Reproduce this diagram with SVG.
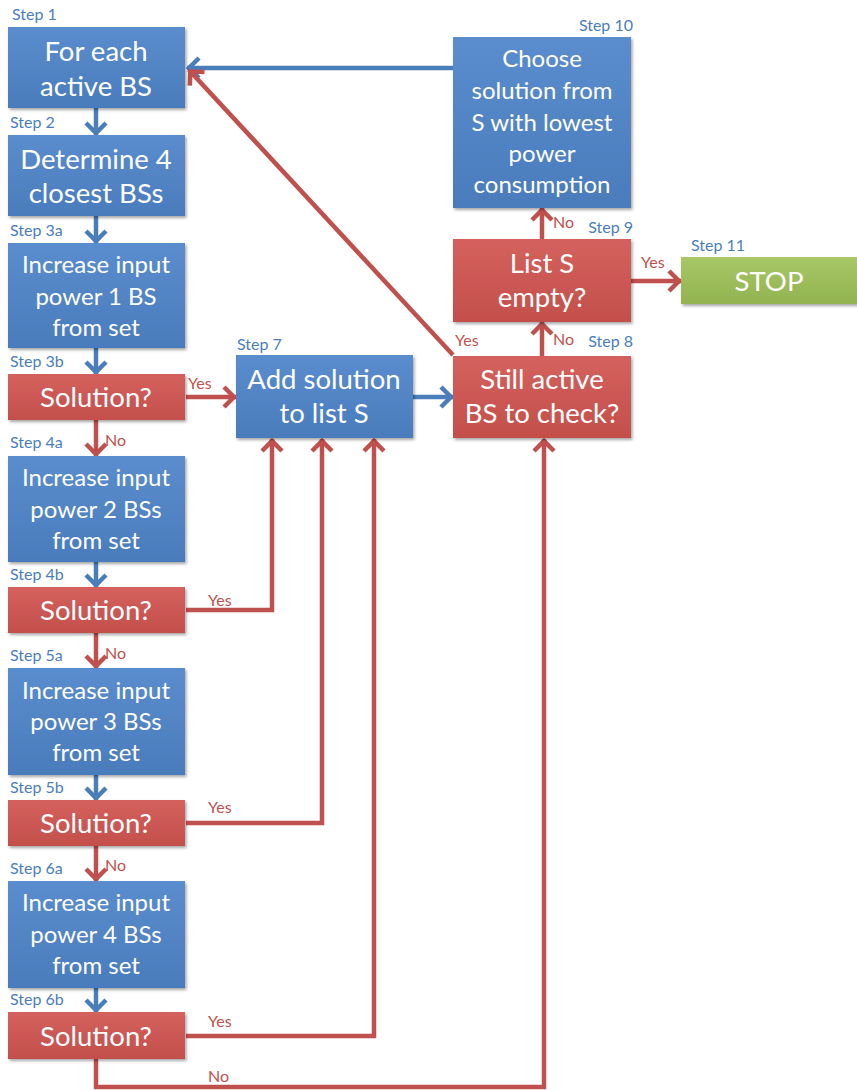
<svg xmlns="http://www.w3.org/2000/svg" width="857" height="1090" viewBox="0 0 857 1090">
<style>
.bt{font-family:Lato,"Open Sans","Liberation Sans",sans-serif;fill:#fff;text-anchor:middle}
.f27{font-size:27.5px}.f23{font-size:24px}.f22{font-size:24px}
.lbl{font-family:Lato,"Open Sans","Liberation Sans",sans-serif;font-size:16px;fill:#4a7ebb}
.rl{font-family:Lato,"Open Sans","Liberation Sans",sans-serif;font-size:16px;fill:#c0504d}
.bl{fill:none;stroke:#4a7ebb;stroke-width:4.5}
.rd{fill:none;stroke:#c0504d;stroke-width:4.5}
</style>
<defs>
<linearGradient id="gb" x1="0" y1="0" x2="0" y2="1"><stop offset="0" stop-color="#5a8dcd"/><stop offset="1" stop-color="#4a7cbc"/></linearGradient>
<linearGradient id="gr" x1="0" y1="0" x2="0" y2="1"><stop offset="0" stop-color="#d4615d"/><stop offset="1" stop-color="#c34f4b"/></linearGradient>
<linearGradient id="gg" x1="0" y1="0" x2="0" y2="1"><stop offset="0" stop-color="#a8c767"/><stop offset="1" stop-color="#92b350"/></linearGradient>
<filter id="sh" x="-10%" y="-10%" width="125%" height="130%"><feDropShadow dx="1.5" dy="2" stdDeviation="1.5" flood-color="#000" flood-opacity="0.35"/></filter>
<marker id="ab" viewBox="-15 -13 17 26" refX="0" refY="0" markerWidth="17" markerHeight="26" markerUnits="userSpaceOnUse" orient="auto"><path d="M-12,-10 L-2,0 L-12,10" fill="none" stroke="#4a7ebb" stroke-width="4.5"/></marker>
<marker id="ar" viewBox="-15 -13 17 26" refX="0" refY="0" markerWidth="17" markerHeight="26" markerUnits="userSpaceOnUse" orient="auto"><path d="M-12,-10 L-2,0 L-12,10" fill="none" stroke="#c0504d" stroke-width="4.5"/></marker>
</defs>
<rect width="857" height="1090" fill="#fff"/>

<g id="connectors">
<line class="bl" x1="96" y1="108" x2="96" y2="135" marker-end="url(#ab)"/>
<line class="bl" x1="96" y1="216" x2="96" y2="243" marker-end="url(#ab)"/>
<line class="bl" x1="96" y1="348" x2="96" y2="374" marker-end="url(#ab)"/>
<line class="rd" x1="96" y1="420" x2="96" y2="456" marker-end="url(#ar)"/>
<line class="bl" x1="96" y1="562" x2="96" y2="587" marker-end="url(#ab)"/>
<line class="rd" x1="96" y1="633" x2="96" y2="668" marker-end="url(#ar)"/>
<line class="bl" x1="96" y1="775" x2="96" y2="800" marker-end="url(#ab)"/>
<line class="rd" x1="96" y1="846" x2="96" y2="881" marker-end="url(#ar)"/>
<line class="bl" x1="96" y1="988" x2="96" y2="1012" marker-end="url(#ab)"/>
<line class="rd" x1="186" y1="397" x2="236" y2="397" marker-end="url(#ar)"/>
<polyline class="rd" points="186,610 272,610 272,439" marker-end="url(#ar)"/>
<polyline class="rd" points="186,823 322,823 322,439" marker-end="url(#ar)"/>
<polyline class="rd" points="186,1036 374,1036 374,439" marker-end="url(#ar)"/>
<polyline class="rd" points="96,1059 96,1087 544,1087 544,439" marker-end="url(#ar)"/>
<line class="bl" x1="413" y1="397" x2="453" y2="397" marker-end="url(#ab)"/>
<line class="rd" x1="542" y1="356" x2="542" y2="322" marker-end="url(#ar)"/>
<line class="rd" x1="542" y1="239" x2="542" y2="208" marker-end="url(#ar)"/>
<line class="rd" x1="631" y1="281" x2="681" y2="281" marker-end="url(#ar)"/>
<line class="bl" x1="453" y1="68" x2="187" y2="68" marker-end="url(#ab)"/>
<line class="rd" x1="453" y1="355" x2="189" y2="70" marker-end="url(#ar)"/>
<text class="rl" x="188" y="389">Yes</text>
<text class="rl" x="105" y="446">No</text>
<text class="rl" x="208" y="606">Yes</text>
<text class="rl" x="105" y="659">No</text>
<text class="rl" x="208" y="813">Yes</text>
<text class="rl" x="105" y="871">No</text>
<text class="rl" x="208" y="1027">Yes</text>
<text class="rl" x="208" y="1082">No</text>
<text class="rl" x="553" y="228">No</text>
<text class="rl" x="553" y="345">No</text>
<text class="rl" x="641" y="268">Yes</text>
<text class="rl" x="455" y="346">Yes</text>
</g>

<g id="step1">
<text class="lbl" x="12" y="20">Step 1</text>
<rect x="8" y="27" width="177" height="81" fill="url(#gb)" filter="url(#sh)"/>
<text class="bt f27" x="96" y="61">For each</text>
<text class="bt f27" x="96" y="96">active BS</text>
</g>
<g id="step2">
<text class="lbl" x="10" y="128">Step 2</text>
<rect x="8" y="135" width="177" height="81" fill="url(#gb)" filter="url(#sh)"/>
<text class="bt f27" x="96" y="169">Determine 4</text>
<text class="bt f27" x="96" y="203">closest BSs</text>
</g>
<g id="step3a">
<text class="lbl" x="10" y="236">Step 3a</text>
<rect x="8" y="243" width="177" height="105" fill="url(#gb)" filter="url(#sh)"/>
<text class="bt f23" x="96" y="273">Increase input</text>
<text class="bt f23" x="96" y="305">power 1 BS</text>
<text class="bt f23" x="96" y="336">from set</text>
</g>
<g id="step3b">
<text class="lbl" x="10" y="367">Step 3b</text>
<rect x="8" y="374" width="177" height="46" fill="url(#gr)" filter="url(#sh)"/>
<text class="bt f27" x="96" y="407">Solution?</text>
</g>
<g id="step4a">
<text class="lbl" x="10" y="448">Step 4a</text>
<rect x="8" y="456" width="177" height="106" fill="url(#gb)" filter="url(#sh)"/>
<text class="bt f23" x="96" y="486">Increase input</text>
<text class="bt f23" x="96" y="518">power 2 BSs</text>
<text class="bt f23" x="96" y="549">from set</text>
</g>
<g id="step4b">
<text class="lbl" x="10" y="580">Step 4b</text>
<rect x="8" y="587" width="177" height="46" fill="url(#gr)" filter="url(#sh)"/>
<text class="bt f27" x="96" y="620">Solution?</text>
</g>
<g id="step5a">
<text class="lbl" x="10" y="661">Step 5a</text>
<rect x="8" y="668" width="177" height="107" fill="url(#gb)" filter="url(#sh)"/>
<text class="bt f23" x="96" y="699">Increase input</text>
<text class="bt f23" x="96" y="730">power 3 BSs</text>
<text class="bt f23" x="96" y="761">from set</text>
</g>
<g id="step5b">
<text class="lbl" x="10" y="793">Step 5b</text>
<rect x="8" y="800" width="177" height="46" fill="url(#gr)" filter="url(#sh)"/>
<text class="bt f27" x="96" y="833">Solution?</text>
</g>
<g id="step6a">
<text class="lbl" x="10" y="874">Step 6a</text>
<rect x="8" y="881" width="177" height="107" fill="url(#gb)" filter="url(#sh)"/>
<text class="bt f23" x="96" y="911">Increase input</text>
<text class="bt f23" x="96" y="943">power 4 BSs</text>
<text class="bt f23" x="96" y="974">from set</text>
</g>
<g id="step6b">
<text class="lbl" x="10" y="1005">Step 6b</text>
<rect x="8" y="1012" width="177" height="47" fill="url(#gr)" filter="url(#sh)"/>
<text class="bt f27" x="96" y="1046">Solution?</text>
</g>
<g id="step7">
<text class="lbl" x="237" y="350">Step 7</text>
<rect x="236" y="355" width="177" height="83" fill="url(#gb)" filter="url(#sh)"/>
<text class="bt f27" x="324" y="389">Add solution</text>
<text class="bt f27" x="324" y="423">to list S</text>
</g>
<g id="step8">
<text class="lbl" x="633" y="347" text-anchor="end">Step 8</text>
<rect x="453" y="356" width="178" height="82" fill="url(#gr)" filter="url(#sh)"/>
<text class="bt f27" x="542" y="389">Still active</text>
<text class="bt f27" x="542" y="423">BS to check?</text>
</g>
<g id="step9">
<text class="lbl" x="633" y="233" text-anchor="end">Step 9</text>
<rect x="453" y="239" width="178" height="83" fill="url(#gr)" filter="url(#sh)"/>
<text class="bt f27" x="542" y="273">List S</text>
<text class="bt f27" x="542" y="307">empty?</text>
</g>
<g id="step10">
<text class="lbl" x="633" y="31" text-anchor="end">Step 10</text>
<rect x="453" y="37" width="178" height="171" fill="url(#gb)" filter="url(#sh)"/>
<text class="bt f22" x="542" y="67">Choose</text>
<text class="bt f22" x="542" y="99">solution from</text>
<text class="bt f22" x="542" y="131">S with lowest</text>
<text class="bt f22" x="542" y="162">power</text>
<text class="bt f22" x="542" y="193">consumption</text>
</g>
<g id="step11">
<text class="lbl" x="691" y="251">Step 11</text>
<rect x="681" y="257" width="180" height="47" fill="url(#gg)" filter="url(#sh)"/>
<text class="bt f27" x="769" y="291">STOP</text>
</g>
</svg>
